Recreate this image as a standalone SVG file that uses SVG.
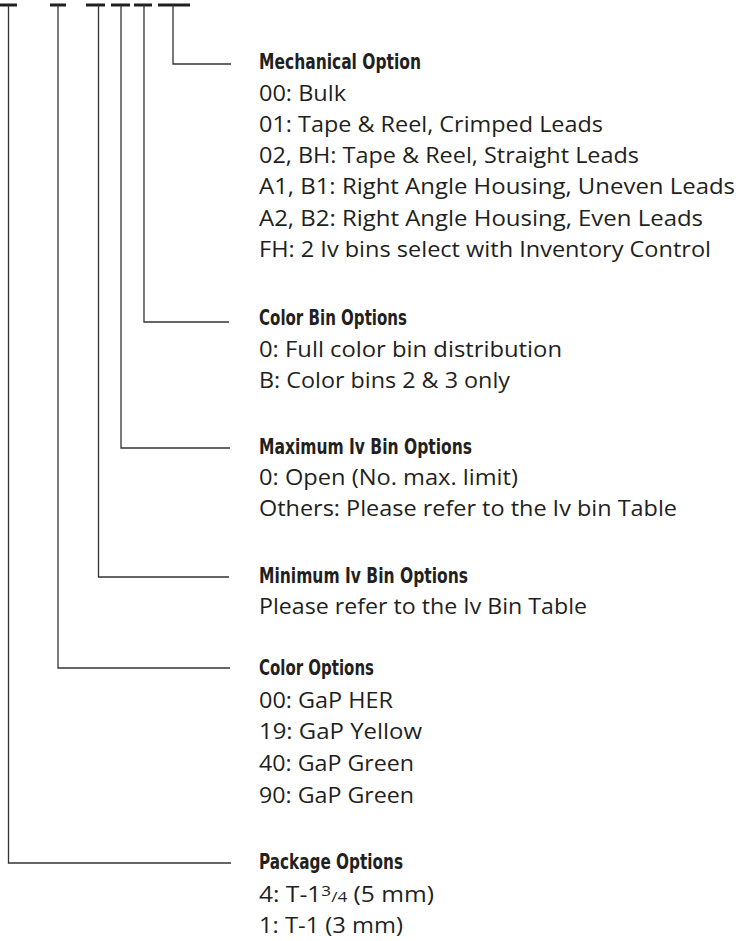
<svg xmlns="http://www.w3.org/2000/svg" width="738" height="941" viewBox="0 0 738 941">
<style>
.bar{stroke:#231f20;stroke-width:3;fill:none}
.ln{stroke:#333;stroke-width:1.3;fill:none}
.t{font-family:"Liberation Sans Narrow","DejaVu Sans Condensed","Liberation Sans",sans-serif;font-weight:bold;font-size:21px;fill:#231f20}
.b{font-family:"Open Sans","Noto Sans",sans-serif;font-size:21.5px;fill:#231f20}
</style>
<rect width="738" height="941" fill="#fff"/>
<g id="connectors">
<path class="bar" d="M0 5H17M50 5H66M86 5H105M111 5H130M134 5H152M158 5H190"/>
<path class="ln" d="M173 5V64H231"/>
<path class="ln" d="M144 5V322H229"/>
<path class="ln" d="M121 5V448H230"/>
<path class="ln" d="M98.5 5V577H229"/>
<path class="ln" d="M58 5V668H230"/>
<path class="ln" d="M8.5 5V863H231"/>
</g>
<g id="mechanical">
<text class="t" x="259" y="69" textLength="162" lengthAdjust="spacingAndGlyphs">Mechanical Option</text>
<text class="b" x="259" y="101" textLength="87" lengthAdjust="spacingAndGlyphs">00: Bulk</text>
<text class="b" x="259" y="132" textLength="344" lengthAdjust="spacingAndGlyphs">01: Tape &amp; Reel, Crimped Leads</text>
<text class="b" x="259" y="163" textLength="380" lengthAdjust="spacingAndGlyphs">02, BH: Tape &amp; Reel, Straight Leads</text>
<text class="b" x="259" y="194" textLength="476" lengthAdjust="spacingAndGlyphs">A1, B1: Right Angle Housing, Uneven Leads</text>
<text class="b" x="259" y="226" textLength="444" lengthAdjust="spacingAndGlyphs">A2, B2: Right Angle Housing, Even Leads</text>
<text class="b" x="259" y="257" textLength="452" lengthAdjust="spacingAndGlyphs">FH: 2 Iv bins select with Inventory Control</text>
</g>
<g id="colorbin">
<text class="t" x="259" y="325" textLength="148" lengthAdjust="spacingAndGlyphs">Color Bin Options</text>
<text class="b" x="259" y="357" textLength="303" lengthAdjust="spacingAndGlyphs">0: Full color bin distribution</text>
<text class="b" x="259" y="388" textLength="251" lengthAdjust="spacingAndGlyphs">B: Color bins 2 &amp; 3 only</text>
</g>
<g id="maximum">
<text class="t" x="259" y="454" textLength="213" lengthAdjust="spacingAndGlyphs">Maximum Iv Bin Options</text>
<text class="b" x="259" y="485" textLength="259" lengthAdjust="spacingAndGlyphs">0: Open (No. max. limit)</text>
<text class="b" x="259" y="516" textLength="418" lengthAdjust="spacingAndGlyphs">Others: Please refer to the Iv bin Table</text>
</g>
<g id="minimum">
<text class="t" x="259" y="583" textLength="209" lengthAdjust="spacingAndGlyphs">Minimum Iv Bin Options</text>
<text class="b" x="259" y="614" textLength="328" lengthAdjust="spacingAndGlyphs">Please refer to the Iv Bin Table</text>
</g>
<g id="color">
<text class="t" x="259" y="675" textLength="115" lengthAdjust="spacingAndGlyphs">Color Options</text>
<text class="b" x="259" y="708" textLength="134" lengthAdjust="spacingAndGlyphs">00: GaP HER</text>
<text class="b" x="259" y="739" textLength="163" lengthAdjust="spacingAndGlyphs">19: GaP Yellow</text>
<text class="b" x="259" y="771" textLength="155" lengthAdjust="spacingAndGlyphs">40: GaP Green</text>
<text class="b" x="259" y="803" textLength="155" lengthAdjust="spacingAndGlyphs">90: GaP Green</text>
</g>
<g id="package">
<text class="t" x="259" y="869" textLength="144" lengthAdjust="spacingAndGlyphs">Package Options</text>
<text class="b" x="259" y="902" textLength="175" lengthAdjust="spacingAndGlyphs">4: T-1<tspan font-size="15" dy="-6">3</tspan><tspan font-size="15" dy="6">/4</tspan> (5 mm)</text>
<text class="b" x="259" y="933" textLength="144" lengthAdjust="spacingAndGlyphs">1: T-1 (3 mm)</text>
</g>
</svg>
